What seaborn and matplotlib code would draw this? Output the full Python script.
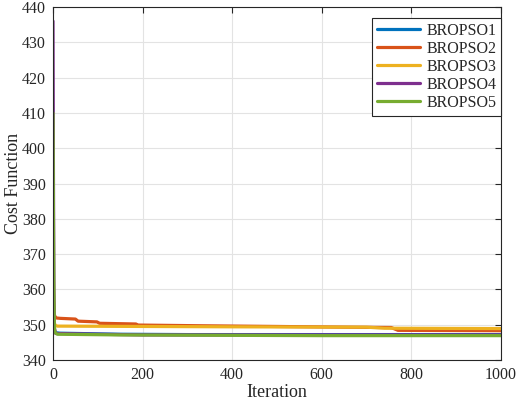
import numpy as np
import pandas as pd
import matplotlib
matplotlib.use("Agg")
import matplotlib.pyplot as plt
import seaborn as sns

# values
iter_1 = [0, 1, 2, 3, 5, 8, 15, 60, 100, 150, 300, 1000]
cost_1 = [355.5, 351.0, 349.0, 348.2, 347.9, 347.7, 347.6, 347.5, 347.4, 347.3, 347.2, 347.2]

iter_2 = [0, 1, 2, 3, 5, 8, 16, 50, 56, 98, 104, 185, 190, 330, 500, 650, 755, 770, 1000]
cost_2 = [360.0, 357.0, 354.0, 352.8, 352.2, 351.9, 351.8, 351.6, 351.0, 350.8, 350.4,
          350.2, 349.9, 349.7, 349.5, 349.3, 349.2, 348.4, 348.3]

iter_3 = [0, 1, 2, 3, 5, 10, 400, 700, 740, 1000]
cost_3 = [378.0, 362.0, 353.0, 350.5, 349.8, 349.6, 349.4, 349.3, 349.0, 348.9]

iter_4 = [0, 1, 2, 3, 6, 200, 1000]
cost_4 = [436.0, 392.0, 360.0, 349.0, 347.5, 347.1, 347.1]

iter_5 = [0, 1, 2, 3, 4, 6, 10, 150, 600, 1000]
cost_5 = [410.0, 380.0, 360.0, 350.0, 348.2, 347.6, 347.3, 347.1, 346.9, 346.9]

names = ["BROPSO1", "BROPSO2", "BROPSO3", "BROPSO4", "BROPSO5"]
colors = ["#0072BD", "#D95319", "#EDB120", "#7E2F8E", "#77AC30"]

frames = []
for name, it, c in zip(names, [iter_1, iter_2, iter_3, iter_4, iter_5],
                       [cost_1, cost_2, cost_3, cost_4, cost_5]):
    frames.append(pd.DataFrame({"Iteration": it, "Cost": c, "Algorithm": name}))
df = pd.concat(frames, ignore_index=True)

sns.set_style("white")
plt.rcParams["font.family"] = ["Liberation Serif", "DejaVu Serif"]

fig = plt.figure(figsize=(5.2, 4.07), dpi=100)
ax = fig.add_axes([53 / 520, 1 - 360 / 407, 448 / 520, 353 / 407])

sns.lineplot(data=df, x="Iteration", y="Cost", hue="Algorithm",
             palette=dict(zip(names, colors)), hue_order=names,
             estimator=None, linewidth=2.3, ax=ax)

ax.set_xlim(0, 1000)
ax.set_ylim(340, 440)
ax.set_xticks(np.arange(0, 1001, 200))
ax.set_yticks(np.arange(340, 441, 10))
ax.grid(True, color="#e3e3e3", linewidth=0.8)
ax.set_axisbelow(True)
for s in ax.spines.values():
    s.set_color("#262626")
    s.set_linewidth(0.8)
ax.tick_params(direction="in", length=4, width=0.8, color="#262626",
               top=True, right=True, labelsize=11.5, labelcolor="#262626", pad=5)
ax.set_xlabel("Iteration", fontsize=13, color="#262626", labelpad=1)
ax.set_ylabel("Cost Function", fontsize=13, color="#262626", labelpad=0)

leg = ax.legend(loc="upper right", bbox_to_anchor=(1.0, 0.968), borderaxespad=0,
                fontsize=11.5, handlelength=2.7, labelspacing=0.12,
                handletextpad=0.4, borderpad=0.3, fancybox=False, framealpha=1)
leg.get_frame().set_edgecolor("#262626")
leg.get_frame().set_linewidth(0.8)
for line in leg.get_lines():
    line.set_linewidth(2.3)

fig.savefig("out.png", dpi=100)
